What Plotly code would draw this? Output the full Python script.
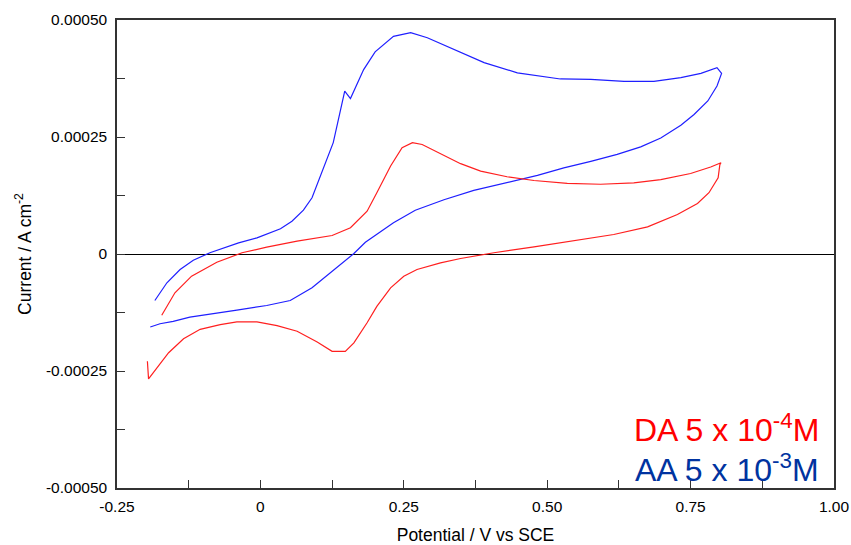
import plotly.graph_objects as go

# AA 5 x 10^-3 M (blue) cyclic voltammogram
aa_v = [-0.184, -0.163, -0.140, -0.117, -0.088, -0.038, -0.006, 0.035, 0.055, 0.075, 0.090, 0.104,
        0.127, 0.147, 0.157, 0.180, 0.200, 0.232, 0.262, 0.291, 0.331, 0.390, 0.448, 0.523, 0.576,
        0.634, 0.686, 0.733, 0.768, 0.796, 0.804,
        0.796, 0.780, 0.756, 0.733, 0.698, 0.663, 0.622, 0.576, 0.529, 0.483, 0.430, 0.372, 0.320,
        0.270, 0.232, 0.183, 0.163, 0.145, 0.122, 0.090, 0.052, 0.011, -0.041, -0.088, -0.123,
        -0.152, -0.175, -0.192]
aa_i = [-0.0000994, -0.0000615, -0.0000331, -0.0000132, 0.0000026, 0.0000239, 0.0000346, 0.0000538,
        0.0000701, 0.0000936, 0.000120, 0.000166, 0.000238, 0.000348, 0.000332, 0.000394, 0.000432,
        0.000465, 0.000473, 0.000462, 0.000441, 0.000409, 0.000387, 0.000374, 0.000373, 0.000369,
        0.000369, 0.000377, 0.000386, 0.000398, 0.000386,
        0.000359, 0.000327, 0.000298, 0.000275, 0.000248, 0.000229, 0.000213, 0.000198, 0.000184,
        0.000168, 0.000152, 0.000136, 0.000116, 0.0000936, 0.0000667, 0.0000252, 0.000001,
        -0.0000175, -0.0000402, -0.0000722, -0.0000994, -0.000110, -0.000120, -0.000128,
        -0.000135, -0.000144, -0.000149, -0.000156]

# DA 5 x 10^-4 M (red) cyclic voltammogram
da_v = [-0.172, -0.149, -0.120, -0.076, -0.032, 0.011, 0.064, 0.125, 0.157, 0.186, 0.203, 0.227,
        0.247, 0.265, 0.282, 0.311, 0.349, 0.384, 0.430, 0.477, 0.535, 0.593, 0.651, 0.698, 0.750,
        0.785, 0.803,
        0.801, 0.798, 0.782, 0.762, 0.727, 0.675, 0.616, 0.570, 0.518, 0.477, 0.407, 0.349, 0.314,
        0.273, 0.250, 0.227, 0.203, 0.186, 0.163, 0.148, 0.125, 0.099, 0.064, 0.029, -0.006,
        -0.041, -0.070, -0.105, -0.134, -0.160, -0.195, -0.197]
da_i = [-0.000131, -0.0000829, -0.0000474, -0.0000175, 0.0000026, 0.0000145, 0.0000274, 0.0000395,
        0.000056, 0.0000915, 0.000131, 0.000188, 0.000227, 0.000238, 0.000234, 0.000216, 0.000193,
        0.000177, 0.000165, 0.000157, 0.000151, 0.000149, 0.000152, 0.000159, 0.000172, 0.000186,
        0.000195,
        0.000191, 0.000163, 0.000131, 0.000108, 0.0000844, 0.0000581, 0.0000417, 0.0000325,
        0.0000224, 0.0000154, 0.0000026, -0.0000096, -0.0000188, -0.0000331, -0.0000474,
        -0.0000722, -0.000112, -0.000147, -0.000190, -0.000208, -0.000208, -0.000188, -0.000165,
        -0.000153, -0.000145, -0.000145, -0.000151, -0.000161, -0.000181, -0.000211, -0.000267,
        -0.000229]

x_ticks = [-0.25, 0, 0.25, 0.5, 0.75, 1.0]
x_tick_text = ["-0.25", "0", "0.25", "0.50", "0.75", "1.00"]
y_ticks = [-0.0005, -0.00025, 0, 0.00025, 0.0005]
y_tick_text = ["-0.00050", "-0.00025", "0", "0.00025", "0.00050"]

FONT = "Arial, Liberation Sans, sans-serif"

fig = go.Figure()
fig.add_trace(go.Scatter(x=aa_v, y=aa_i, mode="lines", line=dict(color="#1f1fff", width=1.2),
                         showlegend=False))
fig.add_trace(go.Scatter(x=da_v, y=da_i, mode="lines", line=dict(color="#ff1f1f", width=1.2),
                         showlegend=False))

axis_common = dict(showgrid=False, showline=True, linecolor="#333333", linewidth=1.5, mirror=True,
                   ticks="inside", ticklen=8, tickcolor="#333333", tickwidth=1, automargin=False,
                   tickfont=dict(family=FONT, size=15.5, color="#000000"))

fig.update_layout(
    width=851, height=545,
    margin=dict(l=117, r=17, t=20, b=57),
    plot_bgcolor="white", paper_bgcolor="white",
    xaxis=dict(range=[-0.25, 1.0], tickvals=x_ticks, ticktext=x_tick_text, zeroline=False,
               minor=dict(dtick=0.125, ticks="inside", ticklen=8, tickcolor="#333333"),
               ticklabelstandoff=4,
               title=dict(text="Potential / V vs SCE", font=dict(family=FONT, size=17.5, color="#000"),
                          standoff=16),
               **axis_common),
    yaxis=dict(range=[-0.0005, 0.0005], tickvals=y_ticks, ticktext=y_tick_text,
               zeroline=True, zerolinecolor="#000000", zerolinewidth=1,
               minor=dict(dtick=0.000125, ticks="inside", ticklen=8, tickcolor="#333333"),
               ticklabelstandoff=5,
               title=dict(text="Current / A cm<sup>-2</sup>", font=dict(family=FONT, size=17.5, color="#000"),
                          standoff=10),
               **axis_common),
    annotations=[
        dict(text="DA 5 x 10<sup>-4</sup>M", xref="paper", yref="paper", x=0.982, y=0.128,
             xanchor="right", yanchor="middle", showarrow=False,
             font=dict(family=FONT, size=32, color="#ff0000")),
        dict(text="AA 5 x 10<sup>-3</sup>M", xref="paper", yref="paper", x=0.982, y=0.043,
             xanchor="right", yanchor="middle", showarrow=False,
             font=dict(family=FONT, size=32, color="#0033a0")),
    ],
)

fig.write_html("out.html")
